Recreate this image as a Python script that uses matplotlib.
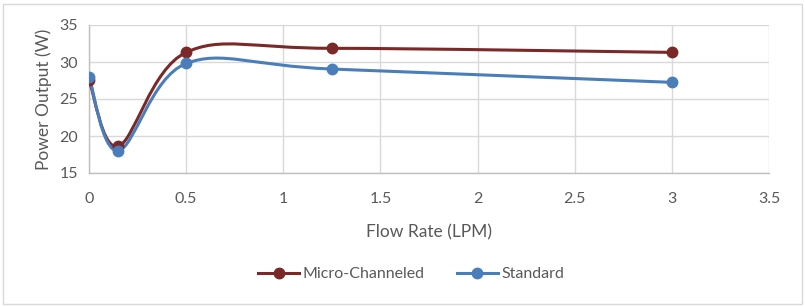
import numpy as np
import matplotlib
matplotlib.use("Agg")
import matplotlib.pyplot as plt
from matplotlib.path import Path
from matplotlib.patches import PathPatch, Rectangle

# data
flow_rate = [0, 0.15, 0.5, 1.25, 3]
micro_channeled = [27.6, 18.6, 31.3, 31.85, 31.3]
standard = [28.0, 18.0, 29.8, 29.05, 27.25]

x_ticks = [0, 0.5, 1, 1.5, 2, 2.5, 3, 3.5]
x_tick_labels = ["0", "0.5", "1", "1.5", "2", "2.5", "3", "3.5"]
y_ticks = [15, 20, 25, 30, 35]

plt.rcParams['font.family'] = ['Lato', 'DejaVu Sans']
text_color = '#595959'


def smooth_path(xs, ys):
    # Excel-like smoothed line: Catmull-Rom turned into cubic Beziers
    pts = np.column_stack([xs, ys]).astype(float)
    n = len(pts)
    verts = [pts[0]]
    codes = [Path.MOVETO]
    for i in range(n - 1):
        p0 = pts[i - 1] if i > 0 else pts[i]
        p1 = pts[i]
        p2 = pts[i + 1]
        p3 = pts[i + 2] if i + 2 < n else pts[i + 1]
        c1 = p1 + (p2 - p0) / 6.0
        c2 = p2 - (p3 - p1) / 6.0
        verts += [c1, c2, p2]
        codes += [Path.CURVE4] * 3
    return Path(verts, codes)


fig = plt.figure(figsize=(8.05, 3.07), dpi=100)
ax = fig.add_axes([89 / 805, 1 - 173 / 307, (769 - 89) / 805, (173 - 25) / 307])

series = [("Micro-Channeled", micro_channeled, '#7B2828'),
          ("Standard", standard, '#4A7EBB')]
for name, vals, col in series:
    ax.add_patch(PathPatch(smooth_path(flow_rate, vals), facecolor='none',
                           edgecolor=col, lw=2.2, capstyle='round', zorder=3))
    ax.plot(flow_rate, vals, 'o', color=col, markersize=7.5, zorder=4)
    ax.plot([], [], '-o', color=col, lw=2.2, markersize=7.5, label=name)

ax.set_xlim(0, 3.5)
ax.set_ylim(15, 35)
ax.set_xticks(x_ticks)
ax.set_xticklabels(x_tick_labels)
ax.set_yticks(y_ticks)
ax.grid(True, color='#D9D9D9', lw=1)
ax.set_axisbelow(True)
for s in ['top', 'right']:
    ax.spines[s].set_visible(False)
for s in ['left', 'bottom']:
    ax.spines[s].set_color('#BFBFBF')
    ax.spines[s].set_linewidth(1)
ax.tick_params(length=0, labelsize=11.5, colors=text_color, pad=8)
ax.tick_params(axis='x', pad=14)

ax.set_xlabel("Flow Rate (LPM)", fontsize=12.5, color=text_color, labelpad=13)
ax.set_ylabel("Power Output (W)", fontsize=12.5, color=text_color, labelpad=5)

leg = fig.legend(loc='center', bbox_to_anchor=(411 / 805, 1 - 274 / 307), ncol=2,
                 frameon=False, fontsize=11.5, handlelength=2.6, columnspacing=2.0,
                 handletextpad=0.2)
for t in leg.get_texts():
    t.set_color(text_color)

fig.patches.append(Rectangle((3 / 805, 3 / 307), 799 / 805, 300 / 307,
                             transform=fig.transFigure, fill=False,
                             edgecolor='#D9D9D9', lw=1))

fig.savefig("out.png", dpi=100)
